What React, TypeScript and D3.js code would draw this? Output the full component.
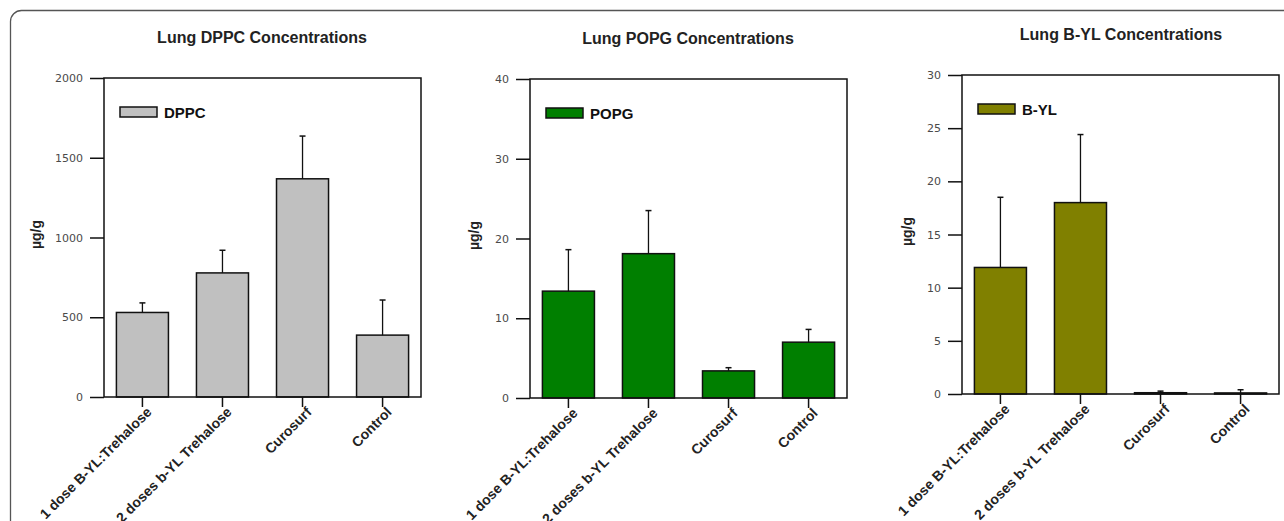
import React, { useEffect, useRef } from 'react';
import * as d3 from 'd3';

// groups on the x axis (same for all three charts)
const categories = ['1 dose B-YL:Trehalose', '2 doses b-YL Trehalose', 'Curosurf', 'Control'];

// DPPC (µg/g)
const dppcMean = [530, 778, 1368, 388];
const dppcErr = [60, 142, 268, 220];
const dppcTicks = [0, 500, 1000, 1500, 2000];

// POPG (µg/g)
const popgMean = [13.4, 18.1, 3.4, 7.0];
const popgErr = [5.2, 5.4, 0.4, 1.6];
const popgTicks = [0, 10, 20, 30, 40];

// B-YL (µg/g)
const bylMean = [11.9, 18.0, 0.12, 0.1];
const bylErr = [6.6, 6.4, 0.15, 0.3];
const bylTicks = [0, 5, 10, 15, 20, 25, 30];

const App = () => {
    const ref = useRef<SVGSVGElement>(null);

    useEffect(() => {
        const svg = d3.select(ref.current);
        svg.selectAll('*').remove();

        // outer rounded border of the figure
        svg.append('rect')
            .attr('x', 10.5)
            .attr('y', 10.5)
            .attr('width', 1320)
            .attr('height', 600)
            .attr('rx', 11)
            .attr('fill', 'none')
            .attr('stroke', '#555')
            .attr('stroke-width', 1.3);

        const panels = [
            { title: 'Lung DPPC Concentrations', name: 'DPPC', mean: dppcMean, err: dppcErr, ticks: dppcTicks, color: '#c0c0c0',
              left: 104, right: 421, top: 78, bottom: 397, titleX: 262, titleY: 43, yLabelX: 41 },
            { title: 'Lung POPG Concentrations', name: 'POPG', mean: popgMean, err: popgErr, ticks: popgTicks, color: '#007f00',
              left: 530, right: 847, top: 79, bottom: 398, titleX: 688, titleY: 44, yLabelX: 479 },
            { title: 'Lung B-YL Concentrations', name: 'B-YL', mean: bylMean, err: bylErr, ticks: bylTicks, color: '#808000',
              left: 962, right: 1279, top: 75, bottom: 394, titleX: 1121, titleY: 40, yLabelX: 912 },
        ];

        panels.forEach(p => {
            const g = svg.append('g');

            const x = d3.scaleBand<string>()
                .domain(categories)
                .range([p.left, p.right])
                .paddingInner(0.35)
                .paddingOuter(0.155);

            const y = d3.scaleLinear()
                .domain([p.ticks[0], p.ticks[p.ticks.length - 1]])
                .range([p.bottom, p.top]);

            // title
            g.append('text')
                .attr('x', p.titleX)
                .attr('y', p.titleY)
                .attr('text-anchor', 'middle')
                .style('font-family', 'Liberation Sans, Arial, sans-serif')
                .style('font-size', '16px')
                .style('font-weight', 'bold')
                .style('fill', '#222')
                .text(p.title);

            // bars
            g.selectAll('rect.bar')
                .data(p.mean)
                .enter()
                .append('rect')
                .attr('class', 'bar')
                .attr('x', (d, i) => x(categories[i]) as number)
                .attr('y', d => y(d))
                .attr('width', x.bandwidth())
                .attr('height', d => y(0) - y(d))
                .attr('fill', p.color)
                .attr('stroke', '#111')
                .attr('stroke-width', 1.5);

            // error bars (upper only)
            const cx = (i: number) => (x(categories[i]) as number) + x.bandwidth() / 2;
            g.selectAll('line.err')
                .data(p.mean)
                .enter()
                .append('line')
                .attr('class', 'err')
                .attr('x1', (d, i) => cx(i))
                .attr('x2', (d, i) => cx(i))
                .attr('y1', d => y(d))
                .attr('y2', (d, i) => y(d + p.err[i]))
                .attr('stroke', '#111')
                .attr('stroke-width', 1.3);
            g.selectAll('line.cap')
                .data(p.mean)
                .enter()
                .append('line')
                .attr('class', 'cap')
                .attr('x1', (d, i) => cx(i) - 3)
                .attr('x2', (d, i) => cx(i) + 3)
                .attr('y1', (d, i) => y(d + p.err[i]))
                .attr('y2', (d, i) => y(d + p.err[i]))
                .attr('stroke', '#111')
                .attr('stroke-width', 1.5);

            // plot frame
            g.append('rect')
                .attr('x', p.left)
                .attr('y', p.top)
                .attr('width', p.right - p.left)
                .attr('height', p.bottom - p.top)
                .attr('fill', 'none')
                .attr('stroke', '#111')
                .attr('stroke-width', 1.5);

            // y axis
            const yAxis = g.append('g')
                .attr('transform', 'translate(' + p.left + ',0)')
                .call(d3.axisLeft(y).tickValues(p.ticks).tickSize(14).tickPadding(7).tickFormat(d3.format('d')));
            yAxis.select('.domain').remove();
            yAxis.selectAll('line').attr('stroke', '#111').attr('stroke-width', 1.5);
            yAxis.selectAll('text')
                .style('font-family', 'DejaVu Sans, Verdana, sans-serif')
                .style('font-size', '11px')
                .style('fill', '#4a4a4a');

            // x axis
            const xAxis = g.append('g')
                .attr('transform', 'translate(0,' + p.bottom + ')')
                .call(d3.axisBottom(x).tickSize(10).tickFormat(() => ''));
            xAxis.select('.domain').remove();
            xAxis.selectAll('line').attr('stroke', '#111').attr('stroke-width', 1.5);

            // rotated category labels
            g.selectAll('text.cat')
                .data(categories)
                .enter()
                .append('text')
                .attr('class', 'cat')
                .attr('transform', (d, i) => 'translate(' + (cx(i) + 10) + ',' + (p.bottom + 16) + ') rotate(-45)')
                .attr('text-anchor', 'end')
                .style('font-family', 'Liberation Sans, Arial, sans-serif')
                .style('font-size', '14px')
                .style('font-weight', 'bold')
                .style('fill', '#222')
                .text(d => d);

            // y axis label
            g.append('text')
                .attr('transform', 'translate(' + p.yLabelX + ',' + ((p.top + p.bottom) / 2 - 3) + ') rotate(-90)')
                .attr('text-anchor', 'middle')
                .style('font-family', 'Liberation Sans, Arial, sans-serif')
                .style('font-size', '14px')
                .style('font-weight', 'bold')
                .style('fill', '#222')
                .text('µg/g');

            // legend
            const lx = p.left + 16;
            const ly = p.top + 29;
            g.append('rect')
                .attr('x', lx)
                .attr('y', ly)
                .attr('width', 37)
                .attr('height', 10)
                .attr('fill', p.color)
                .attr('stroke', '#111')
                .attr('stroke-width', 1.5);
            g.append('text')
                .attr('x', lx + 44)
                .attr('y', ly + 11)
                .style('font-family', 'Liberation Sans, Arial, sans-serif')
                .style('font-size', '15px')
                .style('font-weight', 'bold')
                .style('fill', '#111')
                .text(p.name);
        });
    }, []);

    return (
        <svg ref={ref} width={1284} height={521}
            style={{ position: 'absolute', left: 0, top: 0, background: '#fff' }} />
    );
};

export default App;
